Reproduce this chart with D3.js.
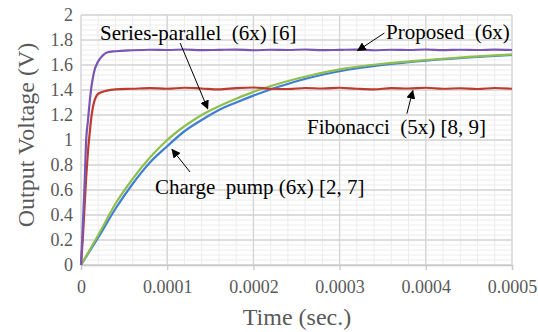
<!DOCTYPE html>
<html>
<head>
<meta charset="utf-8">
<script src="https://cdn.jsdelivr.net/npm/d3@7"></script>
<style>
  body { margin: 0; background: #fff; }
</style>
</head>
<body>
<div id="chart"></div>
<script>
// time axis (sec.) and voltage values
const xTicks = [0, 0.0001, 0.0002, 0.0003, 0.0004, 0.0005];
const yTicks = [0, 0.2, 0.4, 0.6, 0.8, 1, 1.2, 1.4, 1.6, 1.8, 2];

const proposedT = [0, 0.000002, 0.000004, 0.000006, 0.000008, 0.00001, 0.000012, 0.000015, 0.00002, 0.000025, 0.00003, 0.00004,
  0.00006, 0.00008, 0.0001, 0.00012, 0.00014, 0.00016, 0.00018, 0.0002, 0.00022, 0.00024, 0.00026, 0.00028,
  0.0003, 0.00032, 0.00034, 0.00036, 0.00038, 0.0004, 0.00042, 0.00044, 0.00046, 0.00048, 0.0005];
const proposedV = [0, 0.3, 0.62, 1.0, 1.15, 1.3, 1.42, 1.54, 1.63, 1.675, 1.70, 1.71,
  1.718, 1.722, 1.72, 1.724, 1.719, 1.721, 1.723, 1.718, 1.722, 1.72, 1.724, 1.719,
  1.721, 1.723, 1.718, 1.722, 1.72, 1.724, 1.719, 1.722, 1.72, 1.723, 1.72];

const fibonacciT = [0, 0.000002, 0.000004, 0.000006, 0.000008, 0.00001, 0.000012, 0.000014, 0.000017, 0.00002, 0.00003, 0.00004,
  0.00006, 0.00008, 0.0001, 0.00012, 0.00014, 0.00016, 0.00018, 0.0002, 0.00022, 0.00024, 0.00026, 0.00028,
  0.0003, 0.00032, 0.00034, 0.00036, 0.00038, 0.0004, 0.00042, 0.00044, 0.00046, 0.00048, 0.0005];
const fibonacciV = [0, 0.2, 0.45, 0.7, 0.9, 1.05, 1.18, 1.27, 1.34, 1.37, 1.395, 1.405,
  1.41, 1.415, 1.41, 1.418, 1.412, 1.405, 1.415, 1.42, 1.41, 1.408, 1.416, 1.412,
  1.418, 1.41, 1.405, 1.415, 1.412, 1.418, 1.41, 1.414, 1.408, 1.416, 1.41];

const slowT = [0, 0.00001, 0.00002, 0.00004, 0.00006, 0.00008, 0.0001, 0.00012, 0.00014, 0.00016, 0.00018,
  0.0002, 0.00025, 0.0003, 0.00035, 0.0004, 0.00045, 0.0005];
const seriesParallelV = [0, 0.12, 0.24, 0.49, 0.69, 0.86, 1.0, 1.11, 1.2, 1.27, 1.33,
  1.385, 1.49, 1.565, 1.61, 1.64, 1.665, 1.685];
const chargePumpV = [0, 0.11, 0.22, 0.45, 0.65, 0.82, 0.95, 1.07, 1.16, 1.24, 1.30,
  1.355, 1.47, 1.55, 1.60, 1.635, 1.66, 1.68];

const W = 538, H = 332;
const margin = {top: 15, right: 26, bottom: 67, left: 81};
const FONT = 'Liberation Serif';

const svg = d3.select('#chart').append('svg')
  .attr('width', W).attr('height', H)
  .attr('font-family', FONT);

const x = d3.scaleLinear().domain([0, 0.0005]).range([margin.left, W - margin.right]);
const y = d3.scaleLinear().domain([0, 2]).range([H - margin.bottom, margin.top]);

// minor grid
const minorX = d3.range(0, 26).map(i => i * 0.00002);
const minorY = d3.range(0, 51).map(i => i * 0.04);
svg.append('g').selectAll('line').data(minorX).enter().append('line')
  .attr('x1', d => x(d)).attr('x2', d => x(d))
  .attr('y1', y(0)).attr('y2', y(2))
  .attr('stroke', '#ececec').attr('stroke-width', 1);
svg.append('g').selectAll('line').data(minorY).enter().append('line')
  .attr('x1', x(0)).attr('x2', x(0.0005))
  .attr('y1', d => y(d)).attr('y2', d => y(d))
  .attr('stroke', '#ececec').attr('stroke-width', 1);

// major grid
svg.append('g').selectAll('line').data(xTicks).enter().append('line')
  .attr('x1', d => x(d)).attr('x2', d => x(d))
  .attr('y1', y(0)).attr('y2', y(2))
  .attr('stroke', '#d4d4d4').attr('stroke-width', 1.3);
svg.append('g').selectAll('line').data(yTicks).enter().append('line')
  .attr('x1', x(0)).attr('x2', x(0.0005))
  .attr('y1', d => y(d)).attr('y2', d => y(d))
  .attr('stroke', '#d4d4d4').attr('stroke-width', 1.3);

// axes
const xAxis = svg.append('g')
  .attr('transform', `translate(0,${y(0)})`)
  .call(d3.axisBottom(x).tickValues(xTicks).tickSize(5).tickPadding(10)
    .tickFormat(d => d === 0 ? '0' : d3.format('.4f')(d)));
const yAxis = svg.append('g')
  .attr('transform', `translate(${x(0)},0)`)
  .call(d3.axisLeft(y).tickValues(yTicks).tickSize(0).tickPadding(8)
    .tickFormat(d => d3.format('~g')(d)));
[xAxis, yAxis].forEach(a => {
  a.attr('font-family', FONT).attr('font-size', 18);
  a.select('.domain').attr('stroke', '#c8c8c8').attr('stroke-width', 1.3);
  a.selectAll('.tick line').attr('stroke', '#c8c8c8').attr('stroke-width', 1.3);
  a.selectAll('.tick text').attr('fill', '#595959');
});
yAxis.select('.domain').remove();

// series
const line = d3.line().x(d => x(d[0])).y(d => y(d[1])).curve(d3.curveMonotoneX);
const series = [
  {t: slowT, v: chargePumpV, color: '#3f7fd3'},
  {t: slowT, v: seriesParallelV, color: '#8fc04e'},
  {t: fibonacciT, v: fibonacciV, color: '#c0392f'},
  {t: proposedT, v: proposedV, color: '#7b55b3'}
];
series.forEach(s => {
  svg.append('path')
    .datum(s.t.map((t, i) => [t, s.v[i]]))
    .attr('fill', 'none')
    .attr('stroke', s.color)
    .attr('stroke-width', 2.2)
    .attr('d', line);
});

// axis titles
svg.append('text')
  .attr('x', 297).attr('y', 325)
  .attr('text-anchor', 'middle')
  .attr('font-family', FONT).attr('font-size', 24)
  .attr('fill', '#595959')
  .text('Time (sec.)');
svg.append('text')
  .attr('transform', `translate(34,${135}) rotate(-90)`)
  .attr('text-anchor', 'middle')
  .attr('font-family', FONT).attr('font-size', 24)
  .attr('fill', '#595959')
  .text('Output Voltage (V)');

// annotations
svg.append('defs').append('marker')
  .attr('id', 'arrow').attr('viewBox', '0 0 10 10')
  .attr('refX', 9).attr('refY', 5)
  .attr('markerWidth', 9).attr('markerHeight', 9)
  .attr('markerUnits', 'userSpaceOnUse')
  .attr('orient', 'auto')
  .append('path').attr('d', 'M0,0 L10,5 L0,10 z').attr('fill', '#000');

const notes = [
  {text: 'Series-parallel\u00a0 (6x) [6]', tx: 100, ty: 40, from: [0.000115, 1.776], to: [0.000147, 1.25]},
  {text: 'Proposed\u00a0 (6x)', tx: 386, ty: 39, from: [0.000352, 1.856], to: [0.000321, 1.715]},
  {text: 'Fibonacci\u00a0 (5x) [8, 9]', tx: 307, ty: 134, from: [0.000378, 1.21], to: [0.000385, 1.395]},
  {text: 'Charge\u00a0 pump (6x) [2, 7]', tx: 155, ty: 194, from: [0.0001265, 0.744], to: [0.0001056, 0.925]}
];
notes.forEach(n => {
  svg.append('line')
    .attr('x1', x(n.from[0])).attr('y1', y(n.from[1]))
    .attr('x2', x(n.to[0])).attr('y2', y(n.to[1]))
    .attr('stroke', '#000').attr('stroke-width', 1)
    .attr('marker-end', 'url(#arrow)');
  svg.append('text')
    .attr('x', n.tx).attr('y', n.ty)
    .attr('font-family', FONT).attr('font-size', 21)
    .attr('fill', '#000')
    .text(n.text);
});
</script>
</body>
</html>
